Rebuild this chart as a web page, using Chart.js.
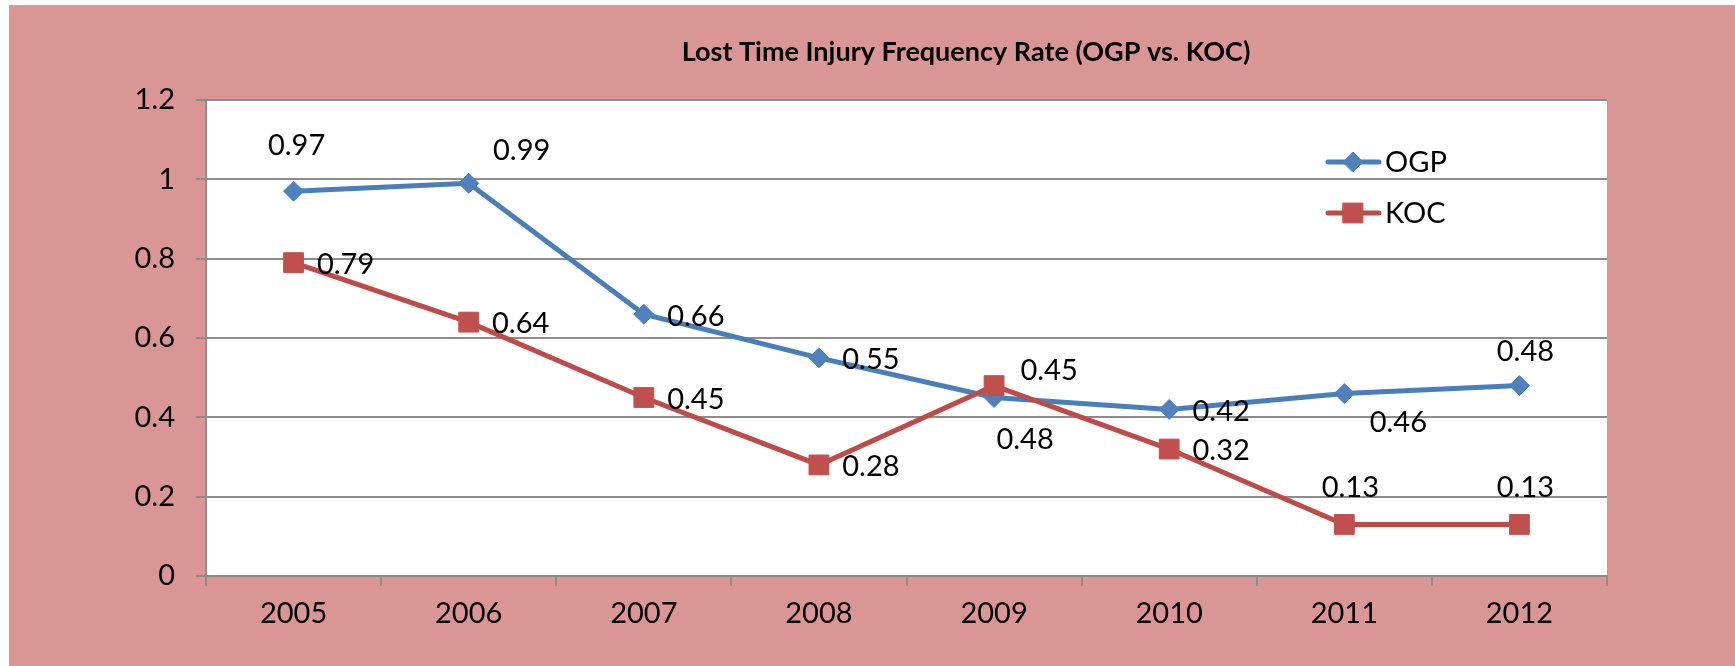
<!DOCTYPE html>
<html>
<head>
<meta charset="utf-8">
<script src="https://cdn.jsdelivr.net/npm/chart.js@4/dist/chart.umd.min.js"></script>
<style>
  html, body { margin: 0; padding: 0; background: #fff; }
  #box { width: 1735px; height: 666px; }
</style>
</head>
<body>
<div id="box"><canvas id="ltifr"></canvas></div>
<script>
const years = ['2005', '2006', '2007', '2008', '2009', '2010', '2011', '2012']
const ogp = [0.97, 0.99, 0.66, 0.55, 0.45, 0.42, 0.46, 0.48]
const koc = [0.79, 0.64, 0.45, 0.28, 0.48, 0.32, 0.13, 0.13]
// label texts as printed on the original (2009 labels are swapped there)
const ogpLabels = ['0.97', '0.99', '0.66', '0.55', '0.48', '0.42', '0.46', '0.48']
const kocLabels = ['0.79', '0.64', '0.45', '0.28', '0.45', '0.32', '0.13', '0.13']
const yTicks = [0, 0.2, 0.4, 0.6, 0.8, 1, 1.2]

// where each label sits relative to its point, [dx, dy] of the text centre
const ogpLabelOffset = [[3, -46], [53, -33], [52, 2], [52, 2], [31, 42], [52, 2], [54, 29], [6, -34]]
const kocLabelOffset = [[52, 2], [52, 2], [52, 2], [52, 2], [55, -15], [52, 2], [6, -37], [6, -37]]

const FONT = "'Liberation Sans Narrow', 'Lato', sans-serif"
const PINK = '#D99694'
const GRID = '#8C8C8C'

const bgPlugin = {
  id: 'bg',
  beforeDraw: chart => {
    const { ctx, chartArea: a } = chart
    ctx.save()
    ctx.fillStyle = '#fff'
    ctx.fillRect(0, 0, chart.width, chart.height)
    ctx.fillStyle = PINK
    ctx.fillRect(9, 5, chart.width - 9, chart.height - 5)
    ctx.fillStyle = '#fff'
    ctx.fillRect(a.left, a.top, a.right - a.left, a.bottom - a.top)
    ctx.restore()
  },
}

const titlePlugin = {
  id: 'xlTitle',
  afterDraw: chart => {
    const ctx = chart.ctx
    ctx.save()
    ctx.font = 'bold 27px ' + FONT
    ctx.fillStyle = '#000'
    ctx.textAlign = 'center'
    ctx.textBaseline = 'middle'
    ctx.fillText('Lost Time Injury Frequency Rate (OGP vs. KOC)', 966, 52)
    ctx.restore()
  },
}

const labelPlugin = {
  id: 'pointLabels',
  afterDatasetsDraw: chart => {
    const ctx = chart.ctx
    const sets = [[0, ogpLabels, ogpLabelOffset], [1, kocLabels, kocLabelOffset]]
    ctx.save()
    ctx.font = '29px ' + FONT
    ctx.fillStyle = '#000'
    ctx.textAlign = 'center'
    ctx.textBaseline = 'middle'
    sets.forEach(([i, texts, offs]) => {
      chart.getDatasetMeta(i).data.forEach((pt, j) => {
        ctx.fillText(texts[j], pt.x + offs[j][0], pt.y + offs[j][1])
      })
    })
    ctx.restore()
  },
}

const legendPlugin = {
  id: 'xlLegend',
  afterDraw: chart => {
    const ctx = chart.ctx
    const rows = [162, 213]
    ctx.save()
    chart.data.datasets.forEach((ds, i) => {
      const y = rows[i]
      ctx.strokeStyle = ds.borderColor
      ctx.lineWidth = ds.borderWidth
      ctx.lineCap = 'round'
      ctx.beginPath()
      ctx.moveTo(1328, y)
      ctx.lineTo(1379, y)
      ctx.stroke()
      ctx.fillStyle = ds.pointBackgroundColor
      ctx.strokeStyle = ds.pointBorderColor
      ctx.lineWidth = 1
      Chart.helpers.drawPoint(ctx, { pointStyle: ds.pointStyle, radius: ds.pointRadius, borderWidth: 1 }, 1353, y)
      ctx.fillStyle = '#000'
      ctx.font = '29px ' + FONT
      ctx.textAlign = 'left'
      ctx.textBaseline = 'middle'
      ctx.fillText(ds.label, 1385, y + 1)
    })
    ctx.restore()
  },
}

new Chart(document.getElementById('ltifr'), {
  type: 'line',
  data: {
    labels: years,
    datasets: [
      {
        label: 'OGP',
        data: ogp,
        borderColor: '#4A7EBB',
        borderWidth: 5,
        pointStyle: 'rectRot',
        pointRadius: 10,
        pointBackgroundColor: '#4F81BD',
        pointBorderColor: '#4F81BD',
        pointBorderWidth: 1,
        order: 2,
      },
      {
        label: 'KOC',
        data: koc,
        borderColor: '#BE4B48',
        borderWidth: 5,
        pointStyle: 'rect',
        pointRadius: 14,
        pointBackgroundColor: '#C0504D',
        pointBorderColor: '#C0504D',
        pointBorderWidth: 1,
        order: 1,
      },
    ],
  },
  options: {
    responsive: true,
    maintainAspectRatio: false,
    animation: false,
    layout: { padding: { left: 0, right: 128, top: 100, bottom: 0 } },
    plugins: { legend: { display: false }, title: { display: false }, tooltip: { enabled: false } },
    scales: {
      x: {
        offset: true,
        grid: { offset: true, drawOnChartArea: false, tickLength: 10, color: GRID, lineWidth: 2 },
        border: { color: GRID, width: 2 },
        ticks: { color: '#000', font: { family: FONT, size: 29 }, padding: 10, maxRotation: 0 },
        afterFit: s => { s.height = 90 },
      },
      y: {
        min: 0,
        max: 1.2,
        afterBuildTicks: s => { s.ticks = yTicks.map(v => ({ value: v })) },
        grid: { color: GRID, lineWidth: 2, tickLength: 10 },
        border: { color: GRID, width: 2 },
        ticks: { color: '#000', font: { family: FONT, size: 29 }, padding: 21, callback: v => String(v) },
        afterFit: s => { s.width = 206 },
      },
    },
  },
  plugins: [bgPlugin, titlePlugin, labelPlugin, legendPlugin],
})
</script>
</body>
</html>
